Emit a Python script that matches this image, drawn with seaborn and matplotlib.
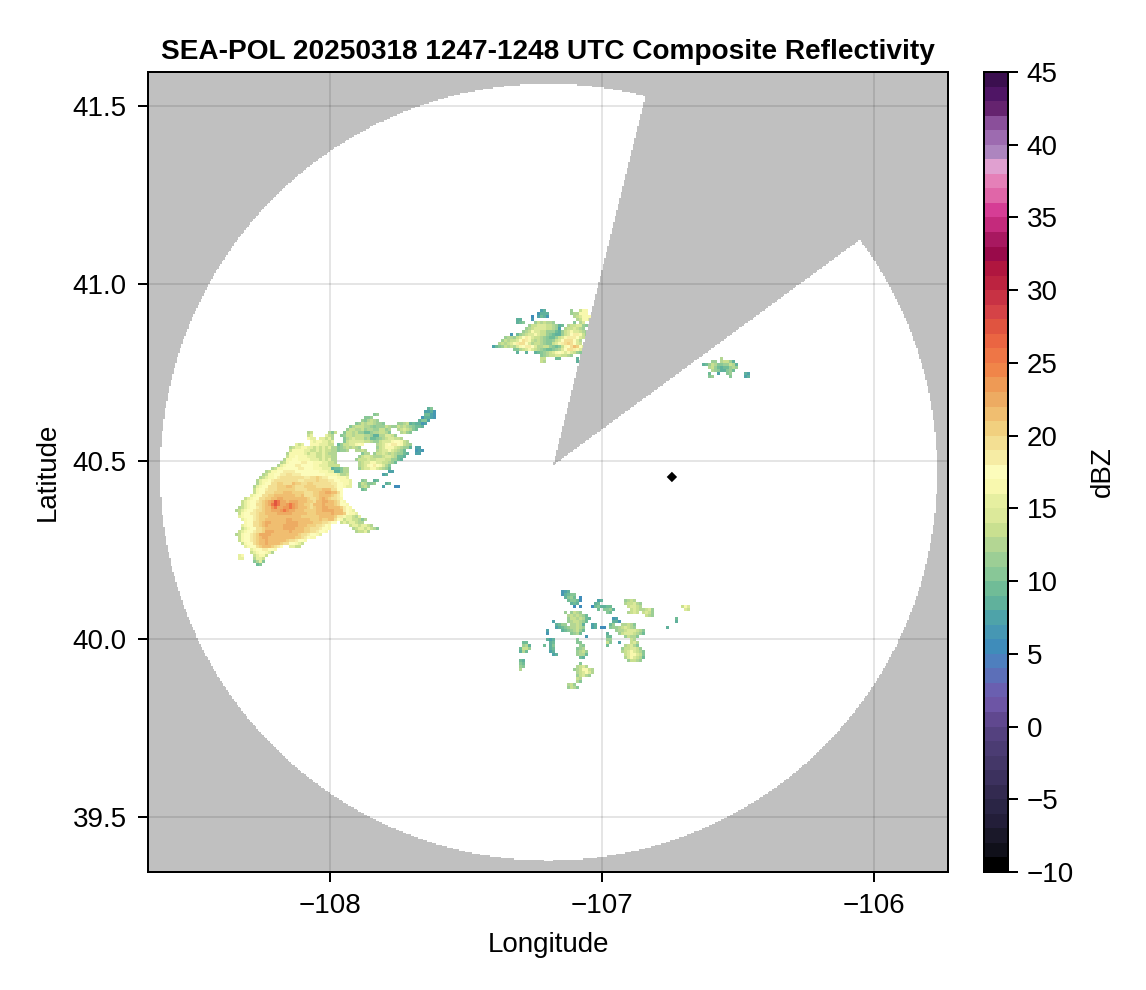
import numpy as np
import pandas as pd
import matplotlib
matplotlib.use("Agg")
import matplotlib.pyplot as plt
from matplotlib.colors import ListedColormap
import seaborn as sns

TITLE = "SEA-POL 20250318 1247-1248 UTC Composite Reflectivity"
LON_TICKS = [-108, -107, -106]
LON_LABELS = ["\u2212108", "\u2212107", "\u2212106"]
LAT_TICKS = [39.5, 40.0, 40.5, 41.0, 41.5]
LAT_LABELS = ["39.5", "40.0", "40.5", "41.0", "41.5"]
CBAR_TICKS = [-10, -5, 0, 5, 10, 15, 20, 25, 30, 35, 40, 45]
CBAR_LABELS = ["\u221210", "\u22125", "0", "5", "10", "15", "20", "25", "30", "35", "40", "45"]

# one colour per dBZ band, from -10 to 45
DBZ_COLORS = [
    "#000000", "#10101a", "#1a1829", "#231e39", "#2a2545", "#332a50", "#3c315e", "#443768",
    "#4b3c73", "#54417f", "#60488f", "#6d55a5", "#6a5fb0", "#5c6fb8", "#4e7fbe", "#3f8cba",
    "#4697b3", "#4ea3a9", "#60b19c", "#70bc97", "#88c797", "#9cce95", "#b3d693", "#c9e090",
    "#dce99a", "#e6efa0", "#f8f8ae", "#fcfcbb", "#f6eca4", "#f3df93", "#f1d07f", "#f0be70",
    "#edab62", "#ee9a55", "#f08549", "#ee7646", "#ea6542", "#e05440", "#d54347", "#c83244",
    "#bc2340", "#b0163f", "#990a4a", "#a81860", "#c42a7c", "#d63d95", "#e066a8", "#e580b8",
    "#e0a0d0", "#ad85bf", "#9d6bb0", "#8a4f9a", "#65236f", "#4f1565", "#3b0f4f",
]

LON_RANGE = [-108.669, -105.728]
LAT_RANGE = [39.344, 41.596]
N_CELLS = 534
COVER_CENTER = [-107.197, 40.470]
COVER_RADII = [1.428, 1.093]
WEDGE_LON = [-107.18, -106.842, -106.059]
WEDGE_LAT = [40.49, 41.525, 41.121]
SITE_LON = [-106.743]
SITE_LAT = [40.456]

# echo patches: each row lists "first column:levels"; level characters map to dBZ below
LEVEL_CHARS = "0123456789abcdefghijklmnop"
LEVEL_DBZ = [4, 5, 5, 6, 7, 8, 9, 10, 11, 12, 13, 14, 16, 17, 18, 19, 19, 20, 21, 21, 22, 23, 25, 27, 28, 29]
CORE_DBZ = [4, 5, 5, 6, 7, 8, 9, 10, 12, 13, 15, 16, 17, 17, 18, 19, 19, 20, 21, 21, 22, 23, 25, 27, 28, 29]

WEST_ORIGIN = [-108.404, 40.673]
WEST_ARC_ROWS = [
    "", "", "69:57", "68:4453", "51:78 68:6643", "48:778 67:35543",
    "47:879a98 66:5774", "45:78a9aa9887 59:889a 63:565534", "43:79aaa9987888a98 58:8a9a987665",
    "42:8aa99a89988aa89 59:9aba976",
    "41:7aa9a8866899aa97 60:9a87",
    "40:78aa9aaa9985599bba8",
    "41:79abaaa8966789abbaa9",
    "41:7abbbbbaa988abbbcddca9",
    "39:68aabbcdc 52:9abcdeedca98",
    "39:789a9a98 52:8abcccba9885 65:44",
    "39:7889 45:99a9 52:9abbcba986 65:343",
    "47:799 51:8aaba9a98865 65:44",
    "46:8abba999abba9665",
    "45:8aaabaabbbaa8865",
    "46:9abbccbbaa986",
    "46:9abcdedcb97",
    "46:8abbccba986",
    "56:44",
    "54:45",
    "",
    "47:78 51:56",
    "46:7a97 50:78 55:56",
    "46:79a8 54:4 58:22",
    "47:67",
]
WEST_CORE_ROWS = [
    "", "", "", "", "", "", "", "", "", "",
    "29:89 36:879",
    "29:9a 35:a98",
    "29:baa 33:aa9a8",
    "30:babbaa9a",
    "25:a9a 30:bbbaaa99",
    "23:89aabbaa9a9a9a88",
    "23:9bbbbaa99a9a9988",
    "22:8bbbbba9aa99a9888",
    "22:9bbcbbbaaa99a9988",
    "21:8bbccbbbbaaa9a9a88",
    "20:89bcccdeedcbbbaa998",
    "19:8abcddeeddccbbaaa9999",
    "17:89bbccdddeedccbbbaaa566788",
    "15:89bbcdeeeedddddcccbbbaa55788",
    "14:89bbcdeeffeeeddddccccbbbba889",
    "13:89abbdeffgggfffeefghfeedccbbba",
    "12:8abbdeffgggfffeefggghfffeedcbbba",
    "12:8abcdfghhgggihhgghhggggffeedcbba",
    "11:8abcdfgghhhiihggghhhhggfggfedcbaa",
    "11:9bcdeggghhhhhhgggghhhhhjjigfdc",
    "11:9bcdfgghhhiiihhhhggghhiikkjifd",
    "10:abcdfghhiiijjiihhiggghhijjihgec",
    "8:9abcdfghhijkkjjiijjiihgghjkjhgfeb",
    "7:9abcdeghiklnmkkjkkkjiihhgijkkjihfcb",
    "7:9abcdfghikmnmkklmlkjihhgijjkjjihgdcb",
    "6:89abcdeghijlmkkllmlkjiihghijkkjjjihecb",
    "5:89abcdefghiikkklmlkkjiihhhhijkkkkjjiecba",
    "6:9bcdeefhhiiijkkkkkjjiiihhhiijjjkjjihcbba",
    "6:abccdeghhhiiiiijjjjjihhhhhhiijiiheebaa98a",
    "7:abcdefhhjjiiijjkkjjiiiihhhihhiifcb9aa99878",
    "8:bcdfghjkkjjijjkkkkjjiiihhhgfedc 40:9a9aa988",
    "7:abcdfghikjjiijkkkkkjjihhhgfedb 43:9aa9aa98",
    "7:9abcdfghijiijjkkkkjiihhggfedcb 44:89aa9a987",
    "6:9abcdefghkkkjjiijkjjiihhgfedcb 45:899a8",
    "5:89bcdefhkkkkjjjijjjiihgfedcba",
    "6:9bcdeghikkjiiiijjiihhfedbb",
    "6:9bcdeghijkjiijjihgfedcb",
    "7:9bcdfhijkjjiihgfdcba9",
    "8:abcdghijihgec 23:aa99",
    "10:abcdeedcb",
    "10:9abccba8",
    "6:ab 11:9abb9",
    "6:aa 11:8aa9",
    "11:78a7",
    "12:67",
]

NORTH_ORIGIN = [-107.449, 40.955]
NORTH_ROWS = [
    "", "", "",
    "20:45 30:8 33:acc",
    "19:3555 30:899ccc",
    "17:2 19:4653 31:9abccc",
    "12:55 17:3 32:9accb",
    "12:567 18:8a9a998 31:7 33:9b",
    "16:8aabbbaa98 26:56 29:9aabb 34:87",
    "15:89abbbbaa987 26:4 28:9aaba98",
    "14:89acbbaa8886 26:5 27:8abcbba98",
    "10:3 12:689abbcbaa87655 27:8abdeeca8",
    "8:8998abdecbaa987668abceeedba8",
    "7:8a9aabdfeca9a98778abdfgfdb9",
    "6:9a9abcefgdb9aa9877abcefhgdba",
    "4:4678a9a9bcdeedb99aa8767acdgihdb98",
    "11:77 13:9abcba98766789bdffecba98",
    "12:5 15:5 18:56789abcdcbcba87",
    "20:789aabbaa98",
    "20:aa 25:66 32:5 80:9",
    "20:a9 32:5 77:88 80:9aa85",
    "74:56 76:8a97788a95",
    "76:9a86566898",
    "77:98755786",
    "76:6 79:4 82:78 88:54",
    "76:78 83:7 88:45",
]

SOUTH_ORIGIN = [-107.338, 40.166]
SOUTH_ROWS = [
    "", "", "",
    "17:345",
    "17:35677",
    "18:5786 23:2",
    "19:67762 29:45 38:89a9",
    "20:565 28:56 38:9aab98",
    "21:2 23:2 27:2675 31:566 39:abba9 57:acb",
    "29:6 31:7785 40:aba98 44:9ab8 58:ba",
    "18:8 20:8a98 32:76 39:9aba 44:aba8",
    "19:9a9a986 45:a98",
    "19:8aa9a965 34:34 55:6",
    "14:4 19:89aa986 34:553 55:5",
    "15:5688 20:99a95 27:45 33:68 37:99a97",
    "15:4567899a98 27:45 30:22 33:7889aba98 52:5",
    "12:4 17:56789a86 35:899abbba97",
    "12:3 20:7896 36:8abbba986 32:5",
    "25:3 32:66 38:8a99 42:7",
    "12:5 13:4 14:5 22:7 32:88 40:a9",
    "4:66 13:56 22:77 32:a7 36:4 40:ab9",
    "4:89 6:5 11:6 13:57 23:87 32:6 38:9ab97",
    "3:6 4:aa8 13:56 22:789 37:8aabba8",
    "3:5 4:96 13:4 14:5 22:89a8 37:9abcba97",
    "14:45 22:8996 38:abccba7",
    "23:65 38:9bcba96",
    "3:6 4:5 39:8aa98",
    "3:7 4:6 23:7",
    "3:8 4:7 22:9ab9",
    "3:9 21:89acca9",
    "22:9abcb9",
    "22:8ab98",
    "22:a9",
    "22:97",
    "19:9a8",
    "19:8a97",
]

VIEW_CELLS = 1600 / 3
ECHO_STEP = 2
CELL_LON = (LON_RANGE[1] - LON_RANGE[0]) / VIEW_CELLS
CELL_LAT = (LAT_RANGE[1] - LAT_RANGE[0]) / VIEW_CELLS


def to_col(lon):
    return (np.asarray(lon) - LON_RANGE[0]) / CELL_LON


def to_row(lat):
    return (LAT_RANGE[1] - np.asarray(lat)) / CELL_LAT


def place(grid, origin, rows, table):
    col0 = int(round(to_col(origin[0])))
    row0 = int(round(to_row(origin[1])))
    for r, row in enumerate(rows):
        for token in row.split():
            start, levels = token.split(":")
            for i, ch in enumerate(levels):
                y = row0 + r * ECHO_STEP
                x = col0 + (int(start) + i) * ECHO_STEP
                grid[y:y + ECHO_STEP, x:x + ECHO_STEP] = table[LEVEL_CHARS.index(ch)] + 0.5


lon_c = LON_RANGE[0] + (np.arange(N_CELLS) + 0.5) * CELL_LON
lat_c = LAT_RANGE[1] - (np.arange(N_CELLS) + 0.5) * CELL_LAT
LON, LAT = np.meshgrid(lon_c, lat_c)

inside = ((LON - COVER_CENTER[0]) / COVER_RADII[0]) ** 2 + ((LAT - COVER_CENTER[1]) / COVER_RADII[1]) ** 2 <= 1
dx, dy = LON - WEDGE_LON[0], LAT - WEDGE_LAT[0]
e1 = (WEDGE_LON[1] - WEDGE_LON[0], WEDGE_LAT[1] - WEDGE_LAT[0])
e2 = (WEDGE_LON[2] - WEDGE_LON[0], WEDGE_LAT[2] - WEDGE_LAT[0])
in_wedge = (e1[0] * dy - e1[1] * dx <= 0) & (e2[0] * dy - e2[1] * dx >= 0)
coverage = (inside & ~in_wedge).astype(float)

echo = np.full((N_CELLS, N_CELLS), np.nan)
place(echo, WEST_ORIGIN, WEST_ARC_ROWS, LEVEL_DBZ)
place(echo, WEST_ORIGIN, WEST_CORE_ROWS, CORE_DBZ)
place(echo, NORTH_ORIGIN, NORTH_ROWS, LEVEL_DBZ)
place(echo, SOUTH_ORIGIN, SOUTH_ROWS, LEVEL_DBZ)
echo[coverage == 0] = np.nan

plt.rcParams["font.family"] = ["Liberation Sans", "DejaVu Sans"]
W, H = 1146, 990
fig = plt.figure(figsize=(W / 100, H / 100), dpi=100)
ax = fig.add_axes([148 / W, 1 - 872 / H, 800 / W, 800 / H])
cax = fig.add_axes([984 / W, 1 - 872 / H, 24 / W, 800 / H])

sns.heatmap(pd.DataFrame(coverage), ax=ax, cmap=ListedColormap(["#c0c0c0", "#ffffff"]),
            vmin=0, vmax=1, cbar=False, square=False)
sns.heatmap(pd.DataFrame(echo), ax=ax, cmap=ListedColormap(DBZ_COLORS), vmin=-10, vmax=45,
            cbar_ax=cax, square=False)
ax.collections[0].set_zorder(1)
ax.collections[1].set_zorder(2.2)

for lon in LON_TICKS:
    ax.axvline(to_col(lon), color="black", alpha=0.1, lw=1.44, zorder=1.5)
for lat in LAT_TICKS:
    ax.axhline(to_row(lat), color="black", alpha=0.1, lw=1.44, zorder=1.5)

sns.scatterplot(x=to_col(SITE_LON), y=to_row(SITE_LAT), marker="D", s=28, color="black",
                edgecolor="none", ax=ax, zorder=3, legend=False)

ax.set_xlim(0, VIEW_CELLS)
ax.set_ylim(VIEW_CELLS, 0)
ax.set_xticks(to_col(LON_TICKS))
ax.set_xticklabels(LON_LABELS, rotation=0, fontsize=20)
ax.set_yticks(to_row(LAT_TICKS))
ax.set_yticklabels(LAT_LABELS, rotation=0, fontsize=20, va="center_baseline")
ax.tick_params(axis="both", length=7.2, width=1.44, pad=8, color="black", labelcolor="black")
ax.set_xlabel("Longitude", fontsize=20, labelpad=9)
ax.set_ylabel("Latitude", fontsize=20, labelpad=8.5)
ax.set_title(TITLE, fontsize=20.2, fontweight="bold", pad=9.5)
for s in ax.spines.values():
    s.set_visible(True)
    s.set_linewidth(1.44)
    s.set_color("black")
    s.set_zorder(4)

cbar = ax.collections[1].colorbar
cbar.set_ticks(CBAR_TICKS)
cbar.set_ticklabels(CBAR_LABELS, fontsize=20)
for t in cbar.ax.get_yticklabels():
    t.set_va("center_baseline")
cbar.ax.tick_params(length=7.4, width=1.44, pad=6, color="black", labelcolor="black")
cbar.outline.set_visible(True)
cbar.outline.set_linewidth(1.44)
cbar.outline.set_edgecolor("black")
cbar.set_label("dBZ", fontsize=20, labelpad=11.5)

fig.savefig("out.png", dpi=100)
